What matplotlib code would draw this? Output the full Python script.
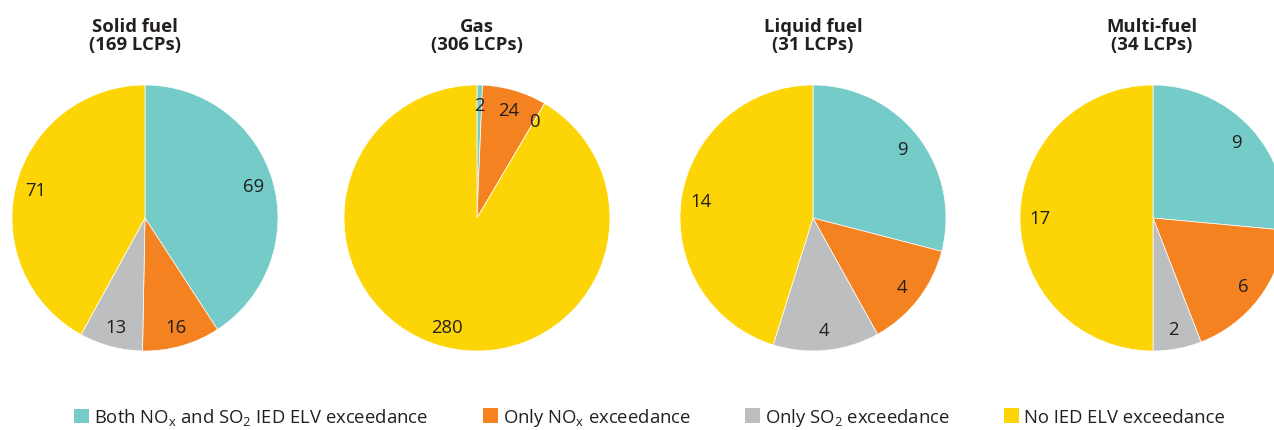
import matplotlib.pyplot as plt
from matplotlib.patches import Patch

plt.rcParams['font.family'] = ['Open Sans', 'DejaVu Sans']
plt.rcParams['mathtext.fontset'] = 'custom'
plt.rcParams['mathtext.rm'] = 'Open Sans'
plt.rcParams['mathtext.it'] = 'Open Sans:italic'

# %% DATA
titles = ['Solid fuel\n(169 LCPs)', 'Gas\n(306 LCPs)', 'Liquid fuel\n(31 LCPs)', 'Multi-fuel\n(34 LCPs)']
both = [69, 2, 9, 9]
only_nox = [16, 24, 4, 6]
only_so2 = [13, 0, 4, 2]
none = [71, 280, 14, 17]
categories = [r'Both NO$_\mathrm{x}$ and SO$_\mathrm{2}$ IED ELV exceedance',
              r'Only NO$_\mathrm{x}$ exceedance',
              r'Only SO$_\mathrm{2}$ exceedance',
              'No IED ELV exceedance']
colors = ['#74CBC8', '#F58220', '#BCBEC0', '#FDD406']

# %% PLOT
W, H = 1274, 431
fig = plt.figure(figsize=(W / 100, H / 100), dpi=100)
centers = [145, 477, 813, 1153]
title_x = [135, 477, 813, 1152]
r = 133
cy = 219

for i, cx in enumerate(centers):
    ax = fig.add_axes([(cx - r) / W, (H - cy - r) / H, 2 * r / W, 2 * r / H])
    vals = [both[i], only_nox[i], only_so2[i], none[i]]
    total = sum(vals)
    ax.pie(vals, colors=colors, startangle=90, counterclock=False,
           autopct=lambda p, t=total: f'{round(p * t / 100):d}',
           pctdistance=0.85, radius=1,
           wedgeprops=dict(edgecolor='white', linewidth=0.5),
           textprops=dict(fontsize=13.3, color='#231F20'))
    ax.set_xlim(-1, 1)
    ax.set_ylim(-1, 1)
    ax.set_aspect('equal')
    fig.text(title_x[i] / W, 1 - 36 / H, titles[i], ha='center', va='center',
             fontsize=13.3, fontweight='bold', color='#231F20', linespacing=1.05)

# legend entries sit at uneven spacing in the original
leg_x = [74, 483, 745, 1004]
for c, lab, x in zip(colors, categories, leg_x):
    fig.legend([Patch(facecolor=c, edgecolor='none')], [lab], loc='center left',
               bbox_to_anchor=(x / W, 13 / H), frameon=False, fontsize=13.3,
               handlelength=0.81, handleheight=0.81, handletextpad=0.27,
               borderpad=0, borderaxespad=0, labelcolor='#231F20')

fig.savefig('out.png', dpi=100)
